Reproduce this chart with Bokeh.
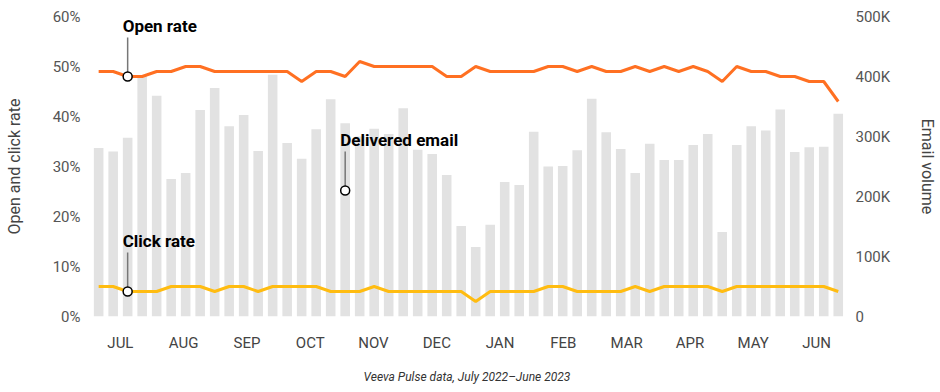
from bokeh.plotting import figure
from bokeh.models import (ColumnDataSource, LinearAxis, Range1d, FixedTicker,
                          Label, NumeralTickFormatter, CustomJSTickFormatter)
from bokeh.embed import file_html
from bokeh.resources import INLINE

# ---- data (weekly, July 2022 - June 2023) ----
months = ["JUL", "AUG", "SEP", "OCT", "NOV", "DEC",
          "JAN", "FEB", "MAR", "APR", "MAY", "JUN"]

# delivered email volume, thousands
volume = [281, 275, 298, 401, 368, 229, 239, 344, 381, 317,
          336, 276, 403, 289, 263, 312, 362, 322, 300, 313,
          304, 347, 278, 271, 236, 151, 116, 153, 224, 219,
          308, 250, 251, 277, 363, 307, 279, 239, 288, 261,
          261, 286, 304, 141, 286, 317, 310, 345, 274, 282,
          283, 338]

# open rate, percent
open_rate = [49, 49, 48, 48, 49, 49, 50, 50, 49, 49,
             49, 49, 49, 49, 47, 49, 49, 48, 51, 50,
             50, 50, 50, 50, 48, 48, 50, 49, 49, 49,
             49, 50, 50, 49, 50, 49, 49, 50, 49, 50,
             49, 50, 49, 47, 50, 49, 49, 48, 48, 47,
             47, 43]

# click rate, percent
click_rate = [6, 6, 5, 5, 5, 6, 6, 6, 5, 6,
              6, 5, 6, 6, 6, 6, 5, 5, 5, 6,
              5, 5, 5, 5, 5, 5, 3, 5, 5, 5,
              5, 6, 6, 5, 5, 5, 5, 6, 5, 6,
              6, 6, 6, 5, 6, 6, 6, 6, 6, 6,
              6, 5]

caption = "Veeva Pulse data, July 2022\u2013June 2023"

weeks = list(range(len(volume)))
src = ColumnDataSource(dict(
    week=weeks,
    volume=[v * 1000 for v in volume],
    open=[o / 100 for o in open_rate],
    click=[c / 100 for c in click_rate],
))

FONT = "Roboto"
ORANGE = "#FF7022"
YELLOW = "#FFBC11"
BAR = "#E2E2E2"

p = figure(width=940, height=392, output_backend="svg", toolbar_location=None,
           x_range=Range1d(-0.7, len(weeks) - 0.5), y_range=Range1d(0, 0.6),
           min_border_left=88, min_border_right=88, min_border_top=16,
           min_border_bottom=76)
p.extra_y_ranges = {"vol": Range1d(0, 500000)}
p.outline_line_color = None
p.xgrid.visible = False
p.ygrid.visible = False
p.background_fill_color = "white"

p.vbar(x="week", top="volume", width=0.66, y_range_name="vol",
       fill_color=BAR, line_color=None, source=src)
p.line("week", "open", line_color=ORANGE, line_width=3, source=src)
p.line("week", "click", line_color=YELLOW, line_width=3, source=src)


def style_axis(ax, size="15px"):
    ax.axis_line_color = None
    ax.major_tick_line_color = None
    ax.minor_tick_line_color = None
    ax.major_tick_out = 0
    ax.major_tick_in = 0
    ax.minor_tick_out = 0
    ax.major_label_text_font = FONT
    ax.major_label_text_font_size = size
    ax.major_label_text_color = "#555555"
    ax.axis_label_text_font = FONT
    ax.axis_label_text_font_size = "16px"
    ax.axis_label_text_font_style = "normal"
    ax.axis_label_text_color = "#444444"


# left axis
yl = p.yaxis[0]
yl.ticker = FixedTicker(ticks=[i / 10 for i in range(7)])
yl.formatter = NumeralTickFormatter(format="0%")
yl.axis_label = "Open and click rate"
style_axis(yl)
yl.major_label_standoff = 8
yl.axis_label_standoff = 26

# right axis
yr = LinearAxis(y_range_name="vol",
                ticker=FixedTicker(ticks=[i * 100000 for i in range(6)]),
                formatter=CustomJSTickFormatter(
                    code="return tick == 0 ? '0' : (tick / 1000) + 'K';"))
yr.axis_label = "Email volume"
style_axis(yr)
yr.major_label_standoff = 10
yr.major_label_text_baseline = "top"
yr.axis_label_standoff = 25
p.add_layout(yr, "right")

# bottom axis (months), caption as axis label
step = len(weeks) / len(months) + 0.03
ticks = [round(1.5 + step * k, 2) for k in range(len(months))]
xa = p.xaxis[0]
xa.ticker = FixedTicker(ticks=ticks)
xa.major_label_overrides = {t: m for t, m in zip(ticks, months)}
style_axis(xa)
xa.major_label_text_color = "#444444"
xa.major_label_standoff = 17
xa.axis_label = caption
xa.axis_label_text_font_size = "12px"
xa.axis_label_text_font_style = "italic"
xa.axis_label_text_color = "#333333"
xa.axis_label_standoff = 15


def annotate(text, x, y, range_name="default"):
    dy = 0.6 / 300 if range_name == "default" else 500000 / 300  # per pixel
    kw = {} if range_name == "default" else {"y_range_name": range_name}
    p.segment(x0=[x], y0=[y + 4 * dy], x1=[x], y1=[y + 39 * dy],
              line_color="#777777", line_width=1.5, **kw)
    p.scatter(x=[x], y=[y], size=9, marker="circle", fill_color="white",
              line_color="black", line_width=1.5, **kw)
    lbl = Label(x=x, y=y, x_offset=-5, y_offset=51, text=text,
                text_font=FONT, text_font_size="17px",
                text_font_style="bold", text_color="black",
                text_baseline="alphabetic", text_align="left")
    if range_name != "default":
        lbl.y_range_name = range_name
    p.add_layout(lbl)


annotate("Open rate", 2, open_rate[2] / 100)
annotate("Click rate", 2, click_rate[2] / 100)
annotate("Delivered email", 17, 210000, "vol")

open("out.html", "w").write(file_html(p, INLINE))
